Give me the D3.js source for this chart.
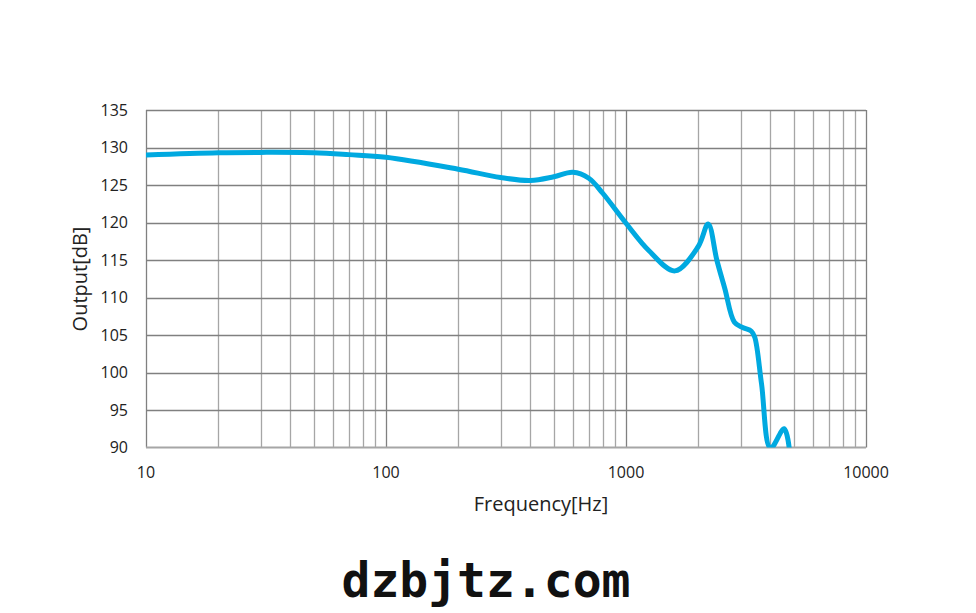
<!DOCTYPE html>
<html>
<head>
<meta charset="utf-8">
<script src="https://cdn.jsdelivr.net/npm/d3@7"></script>
<style>
  body { margin: 0; background: #fff; }
  svg { display: block; }
</style>
</head>
<body>
<div id="chart"></div>
<script>
// Frequency response
const freqs = [10, 20, 30, 50, 70, 100, 200, 300, 400, 500, 600, 700, 800, 1000,
  1250, 1600, 2000, 2200, 2390, 2580, 2830, 3060, 3330, 3440, 3670, 4000, 4560, 4800];
const output = [129.0, 129.3, 129.35, 129.3, 129.05, 128.7, 127.1, 126.0, 125.6, 126.1, 126.7, 125.9, 123.9, 119.9,
  116.2, 113.55, 116.8, 119.8, 115.0, 111.2, 106.7, 106.0, 105.5, 104.7, 98.5, 89.9, 92.5, 89.6];

const yTicks = [90, 95, 100, 105, 110, 115, 120, 125, 130, 135];
const xTicks = [10, 100, 1000, 10000];

const width = 976;
const height = 613;
const margin = { top: 110, right: 110, bottom: 166, left: 146 };

const svg = d3.select('#chart').append('svg')
  .attr('width', width)
  .attr('height', height);

const x = d3.scaleLog()
  .domain([10, 10000])
  .range([margin.left, width - margin.right]);

const y = d3.scaleLinear()
  .domain([90, 135])
  .range([height - margin.bottom + 0.5, margin.top]);

// minor log grid: 2..9 in every decade
const minor = [];
for (let d = 10; d < 10000; d *= 10) {
  for (let k = 2; k <= 9; k++) minor.push(d * k);
}

const grid = svg.append('g').attr('class', 'grid');

grid.selectAll('line.minor')
  .data(minor)
  .enter().append('line')
  .attr('class', 'minor')
  .attr('x1', d => Math.round(x(d)) + 0.5)
  .attr('x2', d => Math.round(x(d)) + 0.5)
  .attr('y1', y(135))
  .attr('y2', y(90))
  .attr('stroke', '#a6a6a6')
  .attr('stroke-width', 1.3);

grid.selectAll('line.major')
  .data(xTicks)
  .enter().append('line')
  .attr('class', 'major')
  .attr('x1', d => Math.round(x(d)) + 0.5)
  .attr('x2', d => Math.round(x(d)) + 0.5)
  .attr('y1', y(135))
  .attr('y2', y(90))
  .attr('stroke', '#808080')
  .attr('stroke-width', 1.3);

grid.selectAll('line.h')
  .data(yTicks.filter(v => v > 90))
  .enter().append('line')
  .attr('class', 'h')
  .attr('x1', x(10))
  .attr('x2', x(10000))
  .attr('y1', d => Math.round(y(d)) + 0.5)
  .attr('y2', d => Math.round(y(d)) + 0.5)
  .attr('stroke', '#808080')
  .attr('stroke-width', 1.3);

// bottom axis line
svg.append('line')
  .attr('x1', x(10))
  .attr('x2', x(10000))
  .attr('y1', y(90))
  .attr('y2', y(90))
  .attr('stroke', '#a6a6a6')
  .attr('stroke-width', 2);

// tick labels
svg.append('g')
  .selectAll('text')
  .data(yTicks)
  .enter().append('text')
  .attr('x', 128)
  .attr('y', d => y(d))
  .attr('dy', '0.35em')
  .attr('text-anchor', 'end')
  .style('font-family', '"Open Sans", sans-serif')
  .style('font-size', '16px')
  .style('fill', '#222')
  .text(d => d);

svg.append('g')
  .selectAll('text')
  .data(xTicks)
  .enter().append('text')
  .attr('x', d => x(d))
  .attr('y', 478)
  .attr('text-anchor', 'middle')
  .style('font-family', '"Open Sans", sans-serif')
  .style('font-size', '16px')
  .style('fill', '#222')
  .text(d => d);

// axis titles
svg.append('text')
  .attr('x', 541)
  .attr('y', 511)
  .attr('text-anchor', 'middle')
  .style('font-family', '"Open Sans", sans-serif')
  .style('font-size', '20px')
  .style('fill', '#222')
  .text('Frequency[Hz]');

svg.append('text')
  .attr('transform', 'translate(87,279) rotate(-90)')
  .attr('text-anchor', 'middle')
  .style('font-family', '"Open Sans", sans-serif')
  .style('font-size', '20px')
  .style('fill', '#222')
  .text('Output[dB]');

// clip the curve to the plot area
svg.append('clipPath')
  .attr('id', 'plot-clip')
  .append('rect')
  .attr('x', x(10))
  .attr('y', y(135))
  .attr('width', x(10000) - x(10))
  .attr('height', y(90) - y(135));

const points = freqs.map((f, i) => [f, output[i]]);

const line = d3.line()
  .x(d => x(d[0]))
  .y(d => y(d[1]))
  .curve(d3.curveCatmullRom.alpha(0.5));

svg.append('path')
  .datum(points)
  .attr('clip-path', 'url(#plot-clip)')
  .attr('d', line)
  .attr('fill', 'none')
  .attr('stroke', '#00a9e0')
  .attr('stroke-width', 5)
  .attr('stroke-linejoin', 'round')
  .attr('stroke-linecap', 'round');

// watermark
svg.append('text')
  .attr('x', 486)
  .attr('y', 597)
  .attr('text-anchor', 'middle')
  .style('font-family', '"DejaVu Sans Mono", monospace')
  .style('font-weight', 'bold')
  .style('font-size', '48px')
  .style('fill', '#111')
  .text('dzbjtz.com');
</script>
</body>
</html>
